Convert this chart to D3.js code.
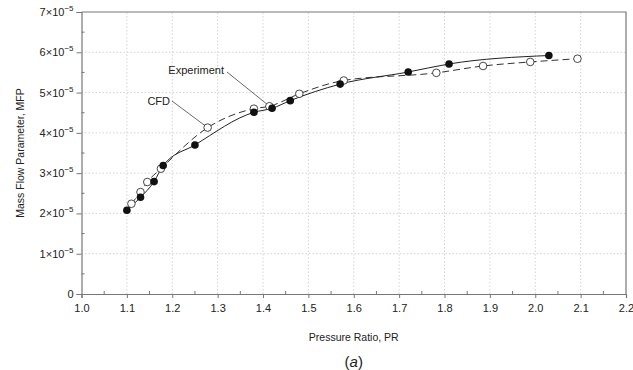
<!DOCTYPE html>
<html>
<head>
<meta charset="utf-8">
<script src="https://cdn.jsdelivr.net/npm/d3@7"></script>
<style>
  body { margin: 0; background: #fff; }
  svg { font-family: "Liberation Sans", Arial, sans-serif; }
</style>
</head>
<body>
<div id="chart"></div>
<script>
// experiment (filled circles, solid line)
const expPR  = [1.10, 1.13, 1.16, 1.18, 1.25, 1.38, 1.42, 1.46, 1.57, 1.72, 1.81, 2.03];
const expMFP = [2.08, 2.40, 2.79, 3.19, 3.70, 4.51, 4.61, 4.80, 5.21, 5.51, 5.71, 5.92];
// CFD (open circles, dashed line)
const cfdPR  = [1.11, 1.13, 1.145, 1.175, 1.278, 1.38, 1.414, 1.48, 1.578, 1.782, 1.885, 1.989, 2.093];
const cfdMFP = [2.24, 2.53, 2.78, 3.11, 4.13, 4.60, 4.66, 4.97, 5.30, 5.49, 5.66, 5.76, 5.84];

const xTicks = [1.0, 1.1, 1.2, 1.3, 1.4, 1.5, 1.6, 1.7, 1.8, 1.9, 2.0, 2.1, 2.2];
const yTicks = [0, 1, 2, 3, 4, 5, 6, 7]; // x 10^-5

const W = 633, H = 370;
const m = {left: 81.5, right: 7, top: 12, bottom: 76};

const svg = d3.select('#chart').append('svg')
  .attr('width', W).attr('height', H);

const x = d3.scaleLinear().domain([1.0, 2.2]).range([m.left, W - m.right]);
const y = d3.scaleLinear().domain([0, 7]).range([H - m.bottom, m.top]);

const axisCol = '#777';

// grid
svg.append('g').selectAll('line')
  .data(xTicks.slice(1, -1))
  .join('line')
  .attr('x1', d => x(d)).attr('x2', d => x(d))
  .attr('y1', y(0)).attr('y2', y(7))
  .attr('stroke', '#d4d4d4').attr('stroke-dasharray', '1.5,2');
svg.append('g').selectAll('line')
  .data(yTicks.slice(1, -1))
  .join('line')
  .attr('x1', x(1.0)).attr('x2', x(2.2))
  .attr('y1', d => y(d)).attr('y2', d => y(d))
  .attr('stroke', '#d4d4d4').attr('stroke-dasharray', '1.5,2');

// frame top/right
svg.append('path')
  .attr('d', `M${x(1.0)},${y(7)}H${x(2.2)}V${y(0)}`)
  .attr('fill', 'none').attr('stroke', axisCol).attr('stroke-width', 1.2);

// x axis
const xAxis = svg.append('g')
  .attr('transform', `translate(0,${y(0)})`)
  .call(d3.axisBottom(x).tickValues(xTicks).tickFormat(d3.format('.1f')).tickSizeOuter(0).tickSize(4));
xAxis.select('.domain').attr('stroke', axisCol).attr('stroke-width', 1.2);
xAxis.selectAll('.tick line').attr('stroke', axisCol);
xAxis.selectAll('.tick text').attr('font-size', 11).attr('fill', '#222').attr('dy', '1.0em');
// minor x ticks (inside)
svg.append('g').selectAll('line')
  .data(d3.range(1.05, 2.2, 0.1))
  .join('line')
  .attr('x1', d => x(d)).attr('x2', d => x(d))
  .attr('y1', y(0)).attr('y2', y(0) - 3)
  .attr('stroke', axisCol);

// y axis
const yAxis = svg.append('g')
  .attr('transform', `translate(${x(1.0)},0)`)
  .call(d3.axisLeft(y).tickValues(yTicks).tickFormat('').tickSizeOuter(0).tickSize(5));
yAxis.select('.domain').attr('stroke', axisCol).attr('stroke-width', 1.2);
yAxis.selectAll('.tick line').attr('stroke', axisCol);
// minor y ticks (inside)
svg.append('g').selectAll('line')
  .data(d3.range(0.5, 7, 1))
  .join('line')
  .attr('x1', x(1.0)).attr('x2', x(1.0) + 3)
  .attr('y1', d => y(d)).attr('y2', d => y(d))
  .attr('stroke', axisCol);

// y tick labels with superscript
const yl = svg.append('g').selectAll('text')
  .data(yTicks)
  .join('text')
  .attr('x', x(1.0) - 8)
  .attr('y', d => y(d) + 4)
  .attr('text-anchor', 'end')
  .attr('font-size', 11)
  .attr('fill', '#222');
yl.each(function(d) {
  const t = d3.select(this);
  if (d === 0) { t.text('0'); return; }
  t.append('tspan').text(d + '\u00d710');
  t.append('tspan').attr('dy', -5).attr('font-size', 8).text('\u22125');
});

// axis titles
svg.append('text')
  .attr('transform', `translate(20,${(y(0) + y(7)) / 2}) rotate(-90)`)
  .attr('text-anchor', 'middle').attr('dy', '0.35em')
  .attr('font-size', 10.5).attr('fill', '#222')
  .text('Mass Flow Parameter, MFP');
svg.append('text')
  .attr('x', (x(1.0) + x(2.2)) / 2).attr('y', 337).attr('dy', '0.35em')
  .attr('text-anchor', 'middle').attr('font-size', 10.5).attr('fill', '#222')
  .text('Pressure Ratio, PR');
svg.append('text')
  .attr('x', (x(1.0) + x(2.2)) / 2).attr('y', 362).attr('dy', '0.35em')
  .attr('text-anchor', 'middle').attr('font-size', 15).attr('fill', '#222')
  .html('(<tspan font-style="italic">a</tspan>)');

// lines
const expData = expPR.map((d, i) => [d, expMFP[i]]);
const cfdData = cfdPR.map((d, i) => [d, cfdMFP[i]]);
const line = d3.line().x(d => x(d[0])).y(d => y(d[1])).curve(d3.curveMonotoneX);

svg.append('path').datum(cfdData).attr('d', line)
  .attr('fill', 'none').attr('stroke', '#333').attr('stroke-width', 1)
  .attr('stroke-dasharray', '7,4');
svg.append('path').datum(expData).attr('d', line)
  .attr('fill', 'none').attr('stroke', '#222').attr('stroke-width', 1);

// annotations
svg.append('line')
  .attr('x1', 172).attr('y1', 101).attr('x2', x(cfdPR[4])).attr('y2', y(cfdMFP[4]))
  .attr('stroke', '#444').attr('stroke-width', 0.8);
svg.append('text').attr('x', 170).attr('y', 105).attr('text-anchor', 'end')
  .attr('font-size', 11).attr('fill', '#222').text('CFD');
svg.append('line')
  .attr('x1', 227).attr('y1', 72).attr('x2', x(expPR[6])).attr('y2', y(expMFP[6]))
  .attr('stroke', '#444').attr('stroke-width', 0.8);
svg.append('text').attr('x', 224).attr('y', 74).attr('text-anchor', 'end')
  .attr('font-size', 11).attr('fill', '#222').text('Experiment');

// markers
svg.append('g').selectAll('circle')
  .data(cfdData).join('circle')
  .attr('cx', d => x(d[0])).attr('cy', d => y(d[1])).attr('r', 3.8)
  .attr('fill', '#fff').attr('stroke', '#333').attr('stroke-width', 0.9);
svg.append('g').selectAll('circle')
  .data(expData).join('circle')
  .attr('cx', d => x(d[0])).attr('cy', d => y(d[1])).attr('r', 3.8)
  .attr('fill', '#111');
</script>
</body>
</html>
